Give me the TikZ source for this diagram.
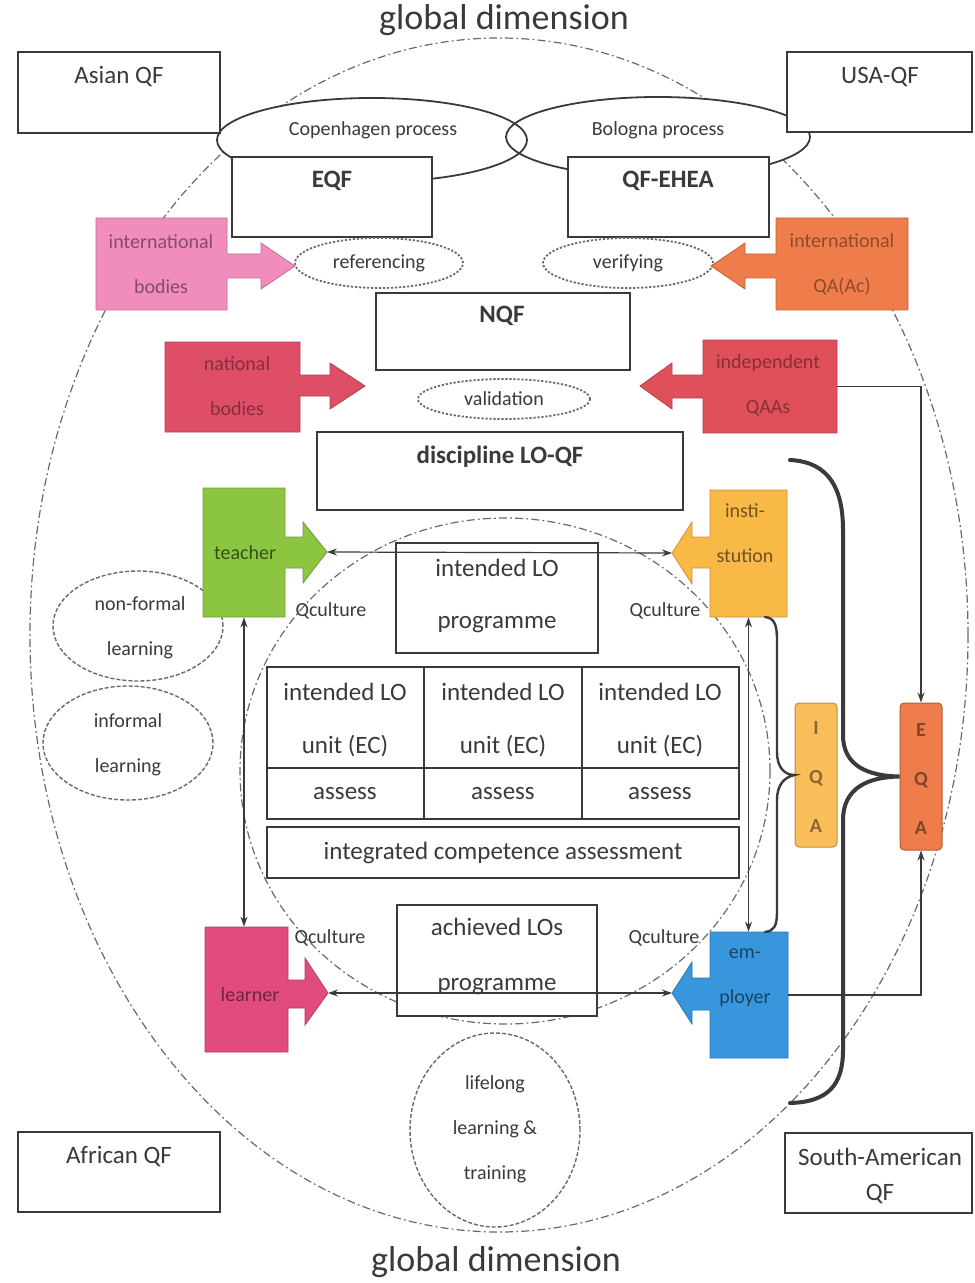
\documentclass[tikz,border=0pt]{standalone}
\usepackage{fontspec}
\setmainfont{Carlito}
\usetikzlibrary{fit,arrows.meta,shapes.geometric}

\definecolor{ink}{HTML}{3A3A3A}
\definecolor{dashgray}{HTML}{6A6A6A}
\definecolor{intpink}{HTML}{F08CBE}
\definecolor{qaorange}{HTML}{EE7D4B}
\definecolor{natred}{HTML}{DE4E66}
\definecolor{indred}{HTML}{E0505A}
\definecolor{teachgreen}{HTML}{8CC641}
\definecolor{instyellow}{HTML}{F9B946}
\definecolor{learnpink}{HTML}{E14B7D}
\definecolor{empblue}{HTML}{3796DC}
\definecolor{iqayellow}{HTML}{F9BE5A}

\begin{document}
\begin{tikzpicture}[x=0.5pt,y=-0.5pt,
  qf/.style={draw=ink, line width=1.1pt, fill=white, inner sep=0pt},
  celltext/.style={inner sep=0pt, align=center, font=\fontsize{12.5}{26.5}\selectfont, text=ink},
  big/.style={font=\fontsize{12.5}{15}\selectfont, text=ink, inner sep=0pt, align=center},
  bigb/.style={font=\fontsize{12.5}{15}\selectfont\bfseries, text=ink, inner sep=0pt},
  small/.style={font=\fontsize{10}{12}\selectfont, text=ink, inner sep=0pt},
  title/.style={font=\fontsize{18}{20}\selectfont, text=ink, inner sep=0pt},
  outerdash/.style={draw=dashgray, line width=0.6pt, dash pattern=on 4pt off 1.6pt on 0.9pt off 1.6pt},
  ring/.style={ellipse, draw=dashgray, line width=0.7pt, dash pattern=on 2pt off 1pt, inner sep=0pt},
  ringtext/.style={inner sep=0pt, align=center, font=\fontsize{10}{22.5}\selectfont, text=ink},
  dotring/.style={ellipse, draw=dashgray, line width=0.9pt, dash pattern=on 1.1pt off 0.9pt,
    inner sep=0pt, font=\fontsize{10}{12}\selectfont, text=ink, fill=white},
  process/.style={ellipse, draw=ink, line width=0.9pt, inner sep=0pt},
  actor/.style={inner sep=0pt, align=center, font=\fontsize{10}{22.5}\selectfont},
  callout/.style={fill=#1, draw=#1!80!black, line width=0.4pt},
  link/.style={draw=ink, line width=0.6pt, <->, >={Stealth[length=5pt,width=3.5pt]}},
  feed/.style={draw=ink, line width=0.6pt, ->, >={Stealth[length=5pt,width=3.5pt]}},
  brace/.style={draw=ink, line width=2pt, line cap=round},
  thinbrace/.style={draw=ink, line width=1.2pt, line cap=round},
  qa/.style={draw=#1!75!black, line width=0.5pt, fill=#1, rounded corners=2pt, inner sep=0pt},
  qatext/.style={inner sep=0pt, align=center, font=\fontsize{10}{24.5}\selectfont\bfseries, text=#1!55!black},
]
\useasboundingbox (0,0) rectangle (974,1283);
\fill[white] (0,0) rectangle (974,1283);

% ---------- global frame ----------
\draw[outerdash] (499,635) ellipse [x radius=234.5pt, y radius=298.5pt];
\node[title] (gtop) at (504,20) {global dimension};
\node[title] (gbot) at (496,1262) {global dimension};

% ---------- inner programme ellipse ----------
\draw[outerdash] (505,771) ellipse [x radius=132.5pt, y radius=126.5pt];

% ---------- European processes ----------
\fill[white] (372,140) ellipse [x radius=77.5pt, y radius=21pt];
\fill[white] (658,137) ellipse [x radius=76pt, y radius=20pt];
\node[process, minimum width=155pt, minimum height=42pt] (copen) at (372,140) {};
\node[process, minimum width=152pt, minimum height=40pt] (bolog) at (658,137) {};
\node[small] (copenT) at (373,130) {Copenhagen process};
\node[small] (bologT) at (658,130) {Bologna process};

% ---------- regional frameworks ----------
\node[qf, fit={(18,52)(220,133)}] (asian) {};
\node[big] (asianT) at (119,77) {Asian QF};
\node[qf, fit={(787,52)(972,132)}] (usa) {};
\node[big] (usaT) at (880,77) {USA-QF};
\node[qf, fit={(18,1132)(220,1212)}] (african) {};
\node[big] (africanT) at (119,1157) {African QF};
\node[qf, fit={(785,1133)(972,1213)}] (samer) {};
\node[big, font=\fontsize{12.5}{17.5}\selectfont] (samerT) at (880,1176) {South-American\\QF};

% ---------- meta frameworks ----------
\node[qf, fit={(232,157)(432,237)}] (eqf) {};
\node[bigb] (eqfT) at (332,181) {EQF};
\node[qf, fit={(568,157)(769,237)}] (qfehea) {};
\node[bigb] (qfeheaT) at (668,181) {QF-EHEA};

\node[dotring, minimum width=84pt, minimum height=25pt] (refer) at (379,263) {referencing};
\node[dotring, minimum width=85pt, minimum height=25pt] (verif) at (628,263) {verifying};

% international bodies
\path[callout=intpink] (96,218) -- (227,218) -- (227,254) -- (261,254) -- (261,243) -- (295,266)
  -- (261,289) -- (261,278) -- (227,278) -- (227,310) -- (96,310) -- cycle;
\node[inner sep=0pt, fit={(96,218)(227,310)}] (intbod) {};
\node[actor, text=intpink!55!black] (intbodT) at (161,264) {international\\bodies};
% international QA agencies
\path[callout=qaorange] (908,218) -- (776,218) -- (776,254) -- (745,254) -- (745,243) -- (711,266)
  -- (745,289) -- (745,278) -- (776,278) -- (776,310) -- (908,310) -- cycle;
\node[inner sep=0pt, fit={(776,218)(908,310)}] (intqa) {};
\node[actor, text=qaorange!60!black] (intqaT) at (842,264) {international\\QA(Ac)};

% ---------- national level ----------
\node[qf, fit={(376,293)(630,370)}] (nqf) {};
\node[bigb] (nqfT) at (502,316) {NQF};
\node[dotring, minimum width=86pt, minimum height=20pt] (valid) at (504,399) {validation};

\path[callout=natred] (165,342) -- (300,342) -- (300,375) -- (330,375) -- (330,363) -- (365,386)
  -- (330,409) -- (330,396) -- (300,396) -- (300,432) -- (165,432) -- cycle;
\node[inner sep=0pt, fit={(165,342)(300,432)}] (natbod) {};
\node[actor, text=natred!60!black] (natbodT) at (237,386) {national\\bodies};
\path[callout=indred] (837,340) -- (703,340) -- (703,375) -- (672,375) -- (672,363) -- (640,386)
  -- (672,409) -- (672,398) -- (703,398) -- (703,433) -- (837,433) -- cycle;
\node[inner sep=0pt, fit={(703,340)(837,433)}] (indqaa) {};
\node[actor, text=indred!60!black] (indqaaT) at (768,385) {independent\\QAAs};

\node[qf, fit={(317,432)(683,510)}] (disc) {};
\node[bigb] (discT) at (500,457) {discipline LO-QF};

% ---------- informal learning ----------
\node[ring, minimum width=85pt, minimum height=55pt] (nonformal) at (138,626) {};
\node[ringtext] (nonformalT) at (140,628) {non-formal\\learning};
\node[ring, minimum width=85pt, minimum height=57pt] (informal) at (128,743) {};
\node[ringtext] (informalT) at (128,745) {informal\\learning};
\node[ring, minimum width=85pt, minimum height=97pt] (lifelong) at (495,1130) {};
\node[ringtext] (lifelongT) at (495,1129) {lifelong\\learning \&\\training};

% ---------- stakeholders ----------
\path[callout=teachgreen] (203,488) -- (285,488) -- (285,537) -- (303,537) -- (303,522) -- (327,552)
  -- (303,583) -- (303,568) -- (285,568) -- (285,617) -- (203,617) -- cycle;
\node[inner sep=0pt, fit={(203,488)(285,617)}] (teacher) {};
\node[actor, text=teachgreen!40!black] (teacherT) at (245,553) {teacher};
\coordinate (teachtip) at (327,552);

\path[callout=instyellow] (787,490) -- (710,490) -- (710,537) -- (692,537) -- (692,522) -- (672,553)
  -- (692,584) -- (692,568) -- (710,568) -- (710,617) -- (787,617) -- cycle;
\node[inner sep=0pt, fit={(710,490)(787,617)}] (inst) {};
\node[actor, text=instyellow!45!black] (instT) at (745,533) {insti-\\stution};
\coordinate (insttip) at (672,553);

\path[callout=learnpink] (205,927) -- (288,927) -- (288,980) -- (305,980) -- (305,958) -- (328,993)
  -- (305,1025) -- (305,1008) -- (288,1008) -- (288,1052) -- (205,1052) -- cycle;
\node[inner sep=0pt, fit={(205,927)(288,1052)}] (learner) {};
\node[actor, text=learnpink!50!black] (learnerT) at (250,995) {learner};
\coordinate (learntip) at (328,993);

\path[callout=empblue] (788,932) -- (710,932) -- (710,978) -- (692,978) -- (692,962) -- (672,993)
  -- (692,1024) -- (692,1010) -- (710,1010) -- (710,1058) -- (788,1058) -- cycle;
\node[inner sep=0pt, fit={(710,932)(788,1058)}] (emp) {};
\node[actor, text=empblue!45!black] (empT) at (745,978) {em-\\ployer};
\coordinate (emptip) at (672,993);

\node[small] (qc1) at (331,611) {Qculture};
\node[small] (qc2) at (665,611) {Qculture};
\node[small] (qc3) at (330,938) {Qculture};
\node[small] (qc4) at (664,938) {Qculture};

% ---------- programme ----------
\node[qf, fit={(396,543)(598,653)}] (intprog) {};
\node[big, font=\fontsize{12.5}{26}\selectfont] (intprogT) at (497,596) {intended LO\\programme};

\node[qf, fit={(267,667)(424,768)}] (u1) {};
\node[qf, fit={(424,667)(582,768)}] (u2) {};
\node[qf, fit={(582,667)(739,768)}] (u3) {};
\node[qf, fit={(267,768)(424,819)}] (a1) {};
\node[qf, fit={(424,768)(582,819)}] (a2) {};
\node[qf, fit={(582,768)(739,819)}] (a3) {};
\node[qf, fit={(267,827)(739,878)}] (ica) {};
\node[celltext] (u1T) at (345,720) {intended LO\\unit (EC)};
\node[celltext] (u2T) at (503,720) {intended LO\\unit (EC)};
\node[celltext] (u3T) at (660,720) {intended LO\\unit (EC)};
\node[celltext] (a1T) at (345,794) {assess};
\node[celltext] (a2T) at (503,794) {assess};
\node[celltext] (a3T) at (660,794) {assess};
\node[celltext] (icaT) at (503,853) {integrated competence assessment};

\node[qf, fit={(397,905)(597,1016)}] (achprog) {};
\node[big, font=\fontsize{12.5}{27.5}\selectfont] (achprogT) at (497,956) {achieved LOs\\programme};

% ---------- relations between stakeholders ----------
\draw[link] (teachtip) -- (insttip);
\draw[link] (learntip) -- (emptip);
\draw[link] (teacher.south) -- (teacher.south |- learner.north);
\draw[link] (inst.south) -- (inst.south |- emp.north);

% ---------- quality assurance ----------
\node[qa=iqayellow, fit={(795,703)(837,847)}] (iqa) {};
\node[qatext=iqayellow] (iqaT) at (816,777) {I\\Q\\A};
\node[qa=qaorange, fit={(900,703)(942,850)}] (eqa) {};
\node[qatext=qaorange] (eqaT) at (921,779) {E\\Q\\A};

\draw[feed] (indqaa.east) -| (eqa.north);
\draw[feed] (emp.east) -| (eqa.south);

\coordinate (iqatop) at (765,617);
\coordinate (iqabot) at (765,932);
\draw[thinbrace] (iqatop) .. controls (774,618) and (777,624) .. (777,640) -- (777,752)
  .. controls (777,768) and (785,775) .. (iqa.west)
  .. controls (785,777) and (777,784) .. (777,800) -- (777,912)
  .. controls (777,926) and (774,931) .. (iqabot);

\coordinate (eqatop) at (790,460);
\coordinate (eqabot) at (790,1103);
\draw[brace] (eqatop) .. controls (830,462) and (843,490) .. (843,530) -- (843,735)
  .. controls (843,766) and (868,776) .. (eqa.west)
  .. controls (868,777) and (843,788) .. (843,820) -- (843,1050)
  .. controls (843,1085) and (828,1102) .. (eqabot);
\end{tikzpicture}
\end{document}
